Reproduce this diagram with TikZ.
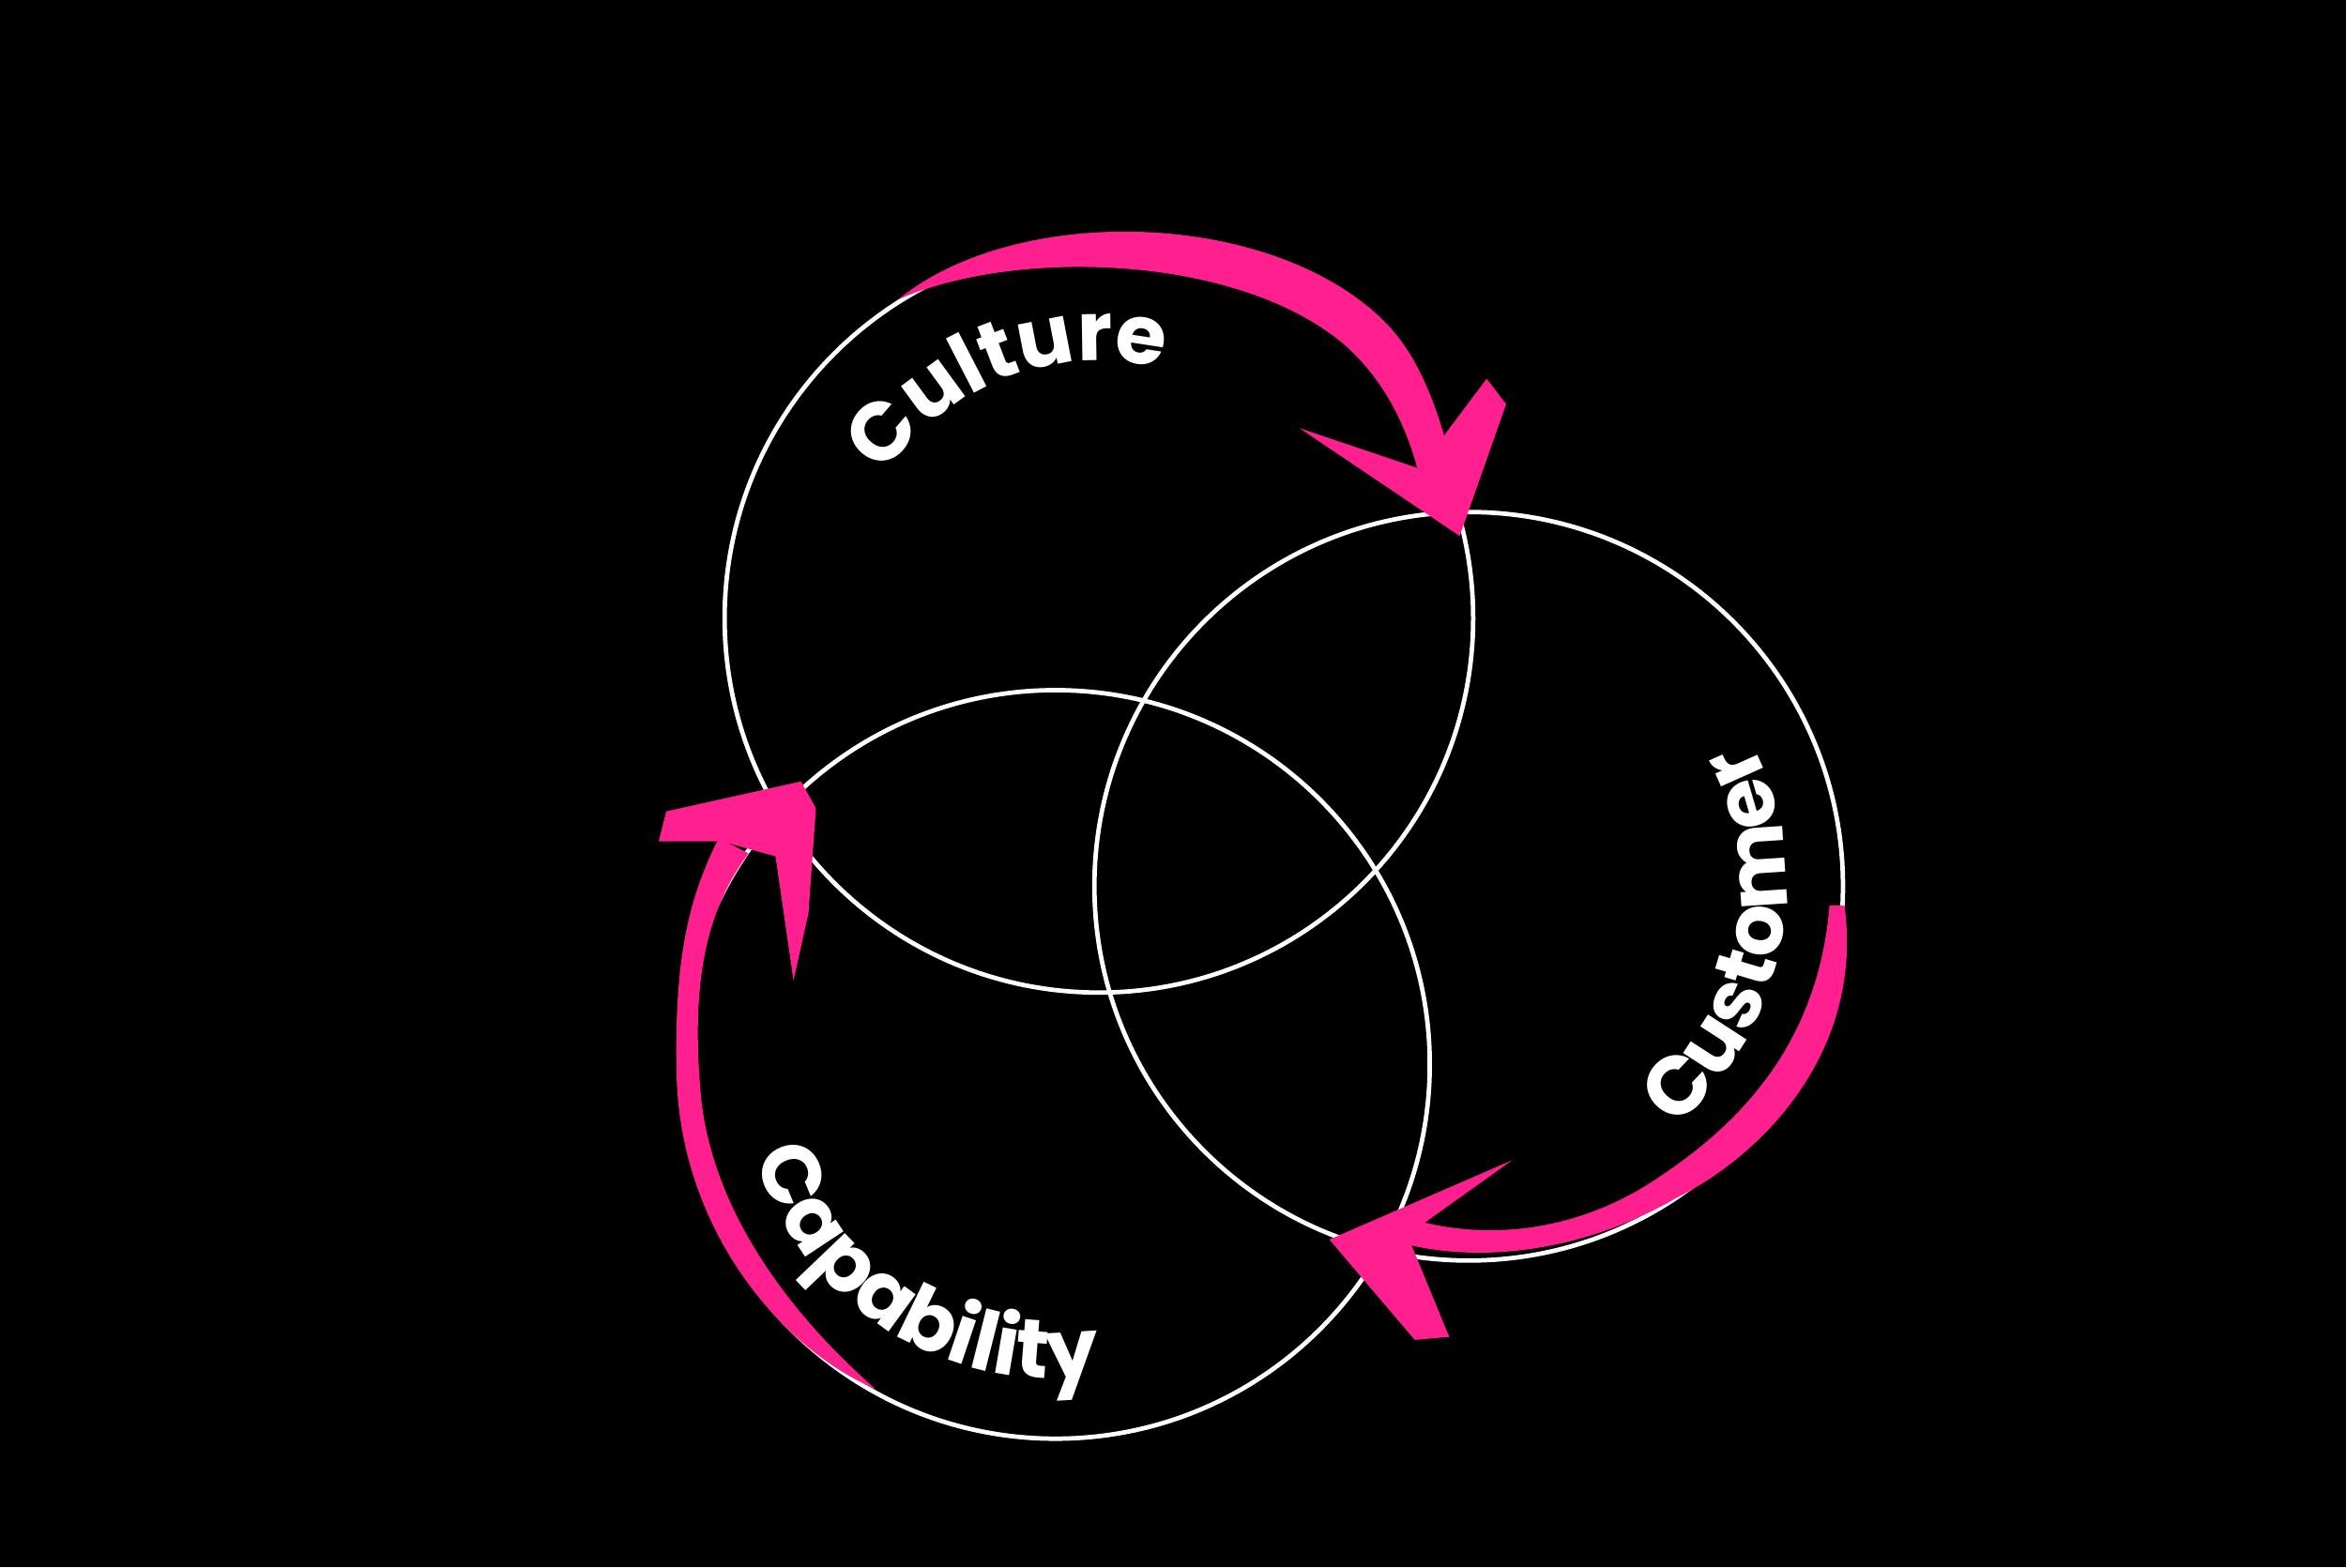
\documentclass[tikz,border=0pt]{standalone}
\usepackage{fontspec}
\newfontfamily\labfont{Poppins}
\usetikzlibrary{decorations.text}
\definecolor{hotpink}{HTML}{FF1F8E}
\tikzset{ring/.style={draw=white,line width=1.35pt},
 brush/.style={fill=hotpink},
 lab/.style={decorate,decoration={text along path,text align=center,text={|\labfont\bfseries\fontsize{25}{25}\selectfont\color{white}|#1}}}}
\begin{document}
\begin{tikzpicture}[x=0.01595cm,y=-0.01595cm]
\fill[black] (0,0) rectangle (1567,1047);
\useasboundingbox (0,0) rectangle (1567,1047);
\draw[ring] (734,413) circle[radius=250];
\draw[ring] (981,592) circle[radius=250];
\draw[ring] (705,711) circle[radius=250];
% arrow 1
\fill[brush] (600,200) .. controls (680,135) and (850,140) .. (925,215) .. controls (950,240) and (963,280) .. (972,320) -- (948,318) .. controls (940,285) and (925,255) .. (900,232) .. controls (830,170) and (680,165) .. cycle;
\fill[brush] (868,286) -- (948,313) -- (993,253) -- (1006,270) -- (975,358) -- cycle;
% arrow 2
\fill[brush] (1232,605) .. controls (1245,700) and (1180,770) .. (1120,800) .. controls (1060,835) and (990,845) .. (935,830) -- (945,815) .. controls (1000,830) and (1060,820) .. (1110,785) .. controls (1170,745) and (1215,690) .. (1222,605) -- cycle;
\fill[brush] (888,828) -- (1010,775) -- (940,825) -- (968,893) -- (945,895) -- cycle;
% arrow 3
\fill[brush] (585,928) .. controls (520,900) and (455,820) .. (452,720) .. controls (450,640) and (460,600) .. (480,560) -- (500,570) .. controls (470,610) and (462,660) .. (468,730) .. controls (475,810) and (530,880) .. cycle;
\fill[brush] (440,562) -- (445,542) -- (535,522) -- (545,540) -- (540,610) -- (530,655) -- (518,572) -- (482,562) -- cycle;
% labels
\begin{scope}[x=0.01595cm,y=0.01595cm]
\path[lab=Culture] (734,-413) ++(148:172) arc[start angle=148,end angle=74,radius=172];
\path[lab=Customer] (981,-592) ++(-58:212) arc[start angle=-58,end angle=36,radius=212];
\path[lab=Capability] (705,-711) ++(192:210) arc[start angle=192,end angle=283,radius=210];
\end{scope}
\end{tikzpicture}
\end{document}
